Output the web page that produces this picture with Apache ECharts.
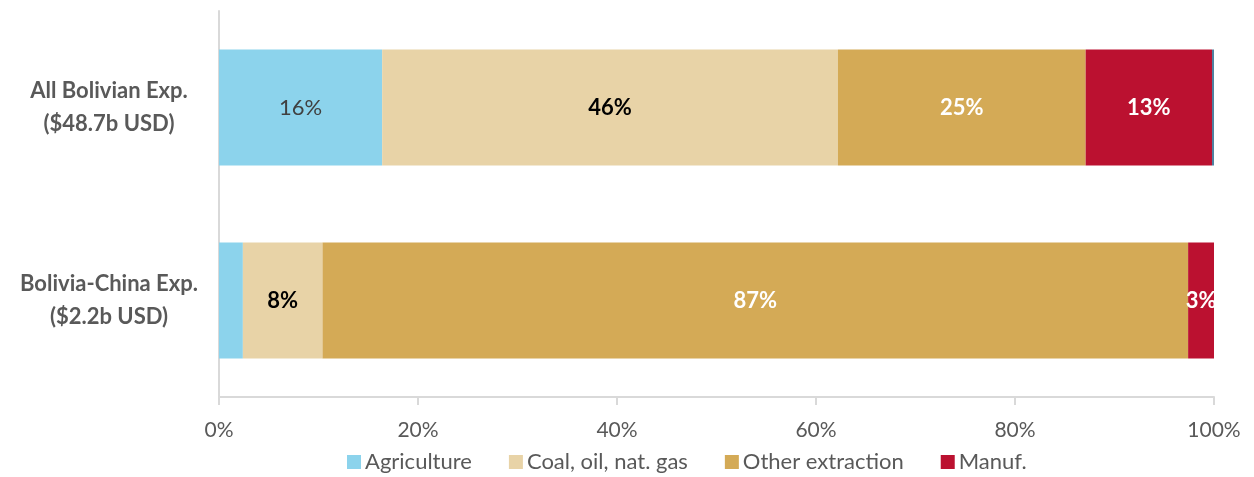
<!DOCTYPE html>
<html>
<head>
<meta charset="utf-8">
<script src="https://cdn.jsdelivr.net/npm/echarts@6/dist/echarts.min.js"></script>
<style>html,body{margin:0;padding:0;background:#fff;}#c{width:1254px;height:477px;}</style>
</head>
<body>
<div id="c"></div>
<script>
const categories = ['All Bolivian Exp.\n($48.7b USD)', 'Bolivia-China Exp.\n($2.2b USD)'];
const seriesNames = ['Agriculture', 'Coal, oil, nat. gas', 'Other extraction', 'Manuf.'];
const agriculture = [16.4, 2.4];
const coal = [45.8, 8.0];
const otherExtraction = [24.9, 87.0];
const manuf = [12.7, 2.6];
const otherSliver = [0.2, 0];
const xTicks = [0, 20, 40, 60, 80, 100];

const colors = ['#8CD3EC', '#E8D3A7', '#D4AA56', '#BB1130'];
const labelColors = [['#404040', 'transparent'], ['#000000', '#000000'], ['#ffffff', '#ffffff'], ['#ffffff', '#ffffff']];
const fontFam = 'Lato, "Open Sans", sans-serif';
const values = [agriculture, coal, otherExtraction, manuf];

const series = seriesNames.map((name, i) => ({
  name: name,
  type: 'bar',
  stack: 'total',
  barWidth: '60%',
  itemStyle: { color: colors[i] },
  data: values[i].map((v, j) => ({
    value: v,
    label: {
      show: v >= 2.5,
      position: 'inside',
      formatter: Math.round(v) + '%',
      color: labelColors[i][j],
      fontSize: 22,
      fontWeight: i === 0 ? 'normal' : 'bold',
      fontFamily: fontFam
    }
  }))
}));
series.push({
  name: 'Other',
  type: 'bar',
  stack: 'total',
  itemStyle: { color: '#4F81A0' },
  data: otherSliver
});

const chart = echarts.init(document.getElementById('c'), null, { renderer: 'canvas' });
chart.setOption({
  animation: false,
  grid: { left: 219, right: 40, top: 11, bottom: 80, containLabel: false },
  legend: {
    data: seriesNames,
    left: 342,
    top: 446,
    itemWidth: 14,
    itemHeight: 14,
    itemGap: 37,
    icon: 'rect',
    textStyle: { fontSize: 22, color: '#595959', fontFamily: fontFam, padding: [0, 0, 0, -1] }
  },
  xAxis: {
    type: 'value',
    min: xTicks[0],
    max: xTicks[xTicks.length - 1],
    interval: 20,
    axisLine: { show: true, lineStyle: { color: '#D9D9D9', width: 2 } },
    axisTick: { show: true, length: 8, lineStyle: { color: '#D9D9D9', width: 2 } },
    splitLine: { show: false },
    axisLabel: { formatter: '{value}%', fontSize: 21, color: '#595959', margin: 23, fontFamily: fontFam }
  },
  yAxis: {
    type: 'category',
    inverse: true,
    data: categories,
    axisLine: { show: true, lineStyle: { color: '#D9D9D9', width: 2 } },
    axisTick: { show: false },
    axisLabel: {
      fontSize: 22,
      fontWeight: 'bold',
      color: '#595959',
      align: 'center',
      margin: 110,
      lineHeight: 33,
      fontFamily: fontFam
    }
  },
  series: series
});
</script>
</body>
</html>
